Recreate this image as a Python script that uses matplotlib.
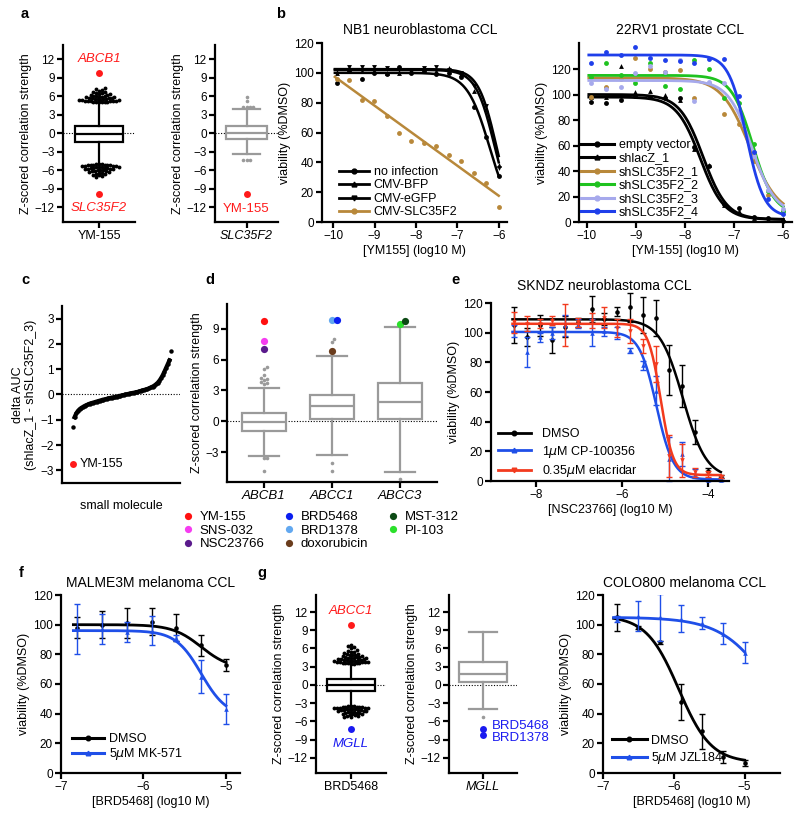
#!/usr/bin/env python3
import numpy as np
import matplotlib
matplotlib.use('Agg')
import matplotlib.pyplot as plt
from matplotlib.lines import Line2D

plt.rcParams['font.family'] = ['Liberation Sans', 'DejaVu Sans']
plt.rcParams['font.size'] = 9

# colours
RED = '#FF1A1A'
BROWN = '#B8883A'
GREEN = '#1FC21F'
LAV = '#A6A9EC'
BLUE = '#1F3FEA'
GRAY = '#9A9A9A'

# ---------------- data ----------------
# a: box stats [whislo, q1, med, q3, whishi]
a1_box = [-5.2, -1.5, -0.1, 1.1, 5.0]
a1_hi = [5.0, 5.02, 5.05, 5.07, 5.1, 5.12, 5.15, 5.18, 5.2, 5.23, 5.26, 5.3, 5.33, 5.36,
         5.4, 5.44, 5.48, 5.52, 5.56, 5.6, 5.64, 5.68, 5.72, 5.76, 5.8, 5.84, 5.88, 5.92,
         5.97, 6.02, 6.08, 6.14, 6.2, 6.28, 6.36, 6.45, 6.55, 6.65, 6.75, 6.9, 7.0, 7.15, 7.3]
a1_lo = [-5.0, -5.03, -5.05, -5.08, -5.1, -5.13, -5.16, -5.2, -5.23, -5.27, -5.3, -5.34,
         -5.38, -5.42, -5.46, -5.5, -5.54, -5.58, -5.62, -5.66, -5.7, -5.74, -5.78, -5.82,
         -5.86, -5.9, -5.95, -6.0, -6.05, -6.1, -6.16, -6.22, -6.3, -6.38, -6.46, -6.55,
         -6.65, -6.75, -6.85, -7.0, -7.1]
a1_hits = [9.8, -9.8]          # ABCB1, SLC35F2
a2_box = [-3.4, -0.9, 0.1, 1.15, 3.85]
a2_out = [4.2, 4.2, 4.25, 4.3, 5.3, 5.9, -4.3, -4.3, -4.3]
a2_hit = -9.8                  # YM-155

# b: NB1
nb1_dose = [-9.91, -9.61, -9.31, -9.01, -8.71, -8.41, -8.11, -7.81, -7.51, -7.21, -6.90, -6.60, -6.30, -6.00]
nb1_noinf = [93, 101, 96, 100, 99, 104, 100, 101, 99, 100, 97, 77, 57, 31]
nb1_bfp = [100, 103, 101, 101, 100, 100, 102, 101, 101, 103, 99, 88, 76, 38]
nb1_egfp = [102, 104, 104, 104, 103, 102, 102, 103, 104, 102, 100, 91, 78, 36]
nb1_slc = [96, 95, 82, 81, 71, 60, 54, 53, 51, 45, 41, 33, 26, 10]
# fit params [top, bottom, logIC50, hill]
nb1_fit = {'noinf': [100, 0, -6.22, 1.6], 'bfp': [102, 0, -6.1, 1.9], 'egfp': [102.5, 0, -6.06, 2.0]}

# b: 22RV1
rv_dose = nb1_dose
rv_labels = ['empty vector', 'shlacZ_1', 'shSLC35F2_1', 'shSLC35F2_2', 'shSLC35F2_3', 'shSLC35F2_4']
rv_vals = [
    [94, 93, 96, 99, 98, 97, 97, 59, 44, 14, 11, 4, 3, 1],
    [98, 98, 122, 102, 103, 100, 96, 57, 45, 13, 9, 3, 2, 2],
    [98, 106, 112, 129, 120, 118, 119, 97, 109, 85, 77, 48, 21, 9],
    [114, 125, 115, 109, 125, 107, 104, 127, 120, 97, 93, 61, 24, 9],
    [109, 104, 106, 117, 122, 118, 127, 95, 110, 109, 87, 52, 25, 10],
    [125, 133, 131, 137, 129, 127, 126, 125, 128, 128, 99, 55, 18, 6],
]
rv_fit = [[98, 2, -7.69, 1.8], [100, 2, -7.63, 1.8], [113, 5, -6.68, 1.5],
          [115, 6, -6.62, 2.0], [111, 6, -6.64, 1.8], [131, 4, -6.75, 2.4]]
rv_colors = ['black', 'black', BROWN, GREEN, LAV, BLUE]
rv_markers = ['o', '^', 'o', 'o', 'o', 'o']

# c: delta AUC, sorted
c_vals = [-1.28, -0.90, -0.75, -0.65, -0.58, -0.53, -0.49, -0.45, -0.42, -0.39, -0.36, -0.34,
          -0.32, -0.30, -0.28, -0.26, -0.24, -0.22, -0.20, -0.19, -0.17, -0.15, -0.14, -0.12,
          -0.11, -0.09, -0.08, -0.06, -0.05, -0.03, -0.02, 0.00, 0.01, 0.03, 0.04, 0.06, 0.07,
          0.09, 0.10, 0.12, 0.14, 0.16, 0.18, 0.20, 0.22, 0.25, 0.28, 0.31, 0.35, 0.40, 0.46,
          0.54, 0.64, 0.76, 0.90, 1.05, 1.20, 1.35, 1.72]
c_ym155 = -2.75

# d
d_genes = ['ABCB1', 'ABCC1', 'ABCC3']
d_boxes = [[-3.35, -0.9, -0.05, 0.82, 3.2], [-3.25, 0.22, 1.46, 2.6, 6.3], [-4.97, 0.22, 1.85, 3.75, 9.17]]
d_out = [[3.6, 3.7, 3.8, 4.0, 4.1, 4.2, 4.5, 5.1, 5.3, -3.6, -3.6, -4.8],
         [7.7, 8.0, 6.9, -4.1, -4.8],
         [-5.6]]
hit_names = ['YM-155', 'SNS-032', 'NSC23766', 'BRD5468', 'BRD1378', 'doxorubicin', 'MST-312', 'PI-103']
hit_gene = [0, 0, 0, 1, 1, 1, 2, 2]
hit_z = [9.7, 7.8, 7.0, 9.8, 9.8, 6.85, 9.7, 9.45]
hit_colors = ['#FF1010', '#F53CF0', '#5A1A8C', '#0A1EF0', '#62A8F0', '#6A3C1C', '#0C4A14', '#2BE02B']

# e: SKNDZ
e_dose = [-8.52, -8.22, -7.92, -7.62, -7.32, -7.02, -6.71, -6.41, -6.11, -5.81, -5.51, -5.21,
          -4.91, -4.61, -4.30, -4.00, -3.70]
e_dmso = [105, 97, 105, 95, 104, 107, 116, 109, 114, 117, 112, 110, 75, 64, 33, 7, 3]
e_dmso_err = [12, 6, 7, 9, 7, 3, 9, 4, 3, 10, 12, 12, 17, 14, 8, 2, 1]
e_cp = [101, 87, 97, 100, 105, 106, 100, 101, 100, 88, 78, 61, 15, 18, 5, 1, 1]
e_cp_err = [4, 10, 3, 4, 7, 3, 9, 3, 4, 2, 3, 10, 15, 8, 3, 1, 1]
e_ela = [107, 106, 106, 108, 105, 107, 108, 110, 103, 101, 91, 79, 17, 14, 6, 5, 3]
e_ela_err = [7, 5, 3, 3, 14, 3, 5, 7, 6, 8, 5, 12, 14, 11, 3, 2, 1]
e_fit = [[109, 2, -4.58, 1.6], [100.5, 1, -5.2, 2.2], [106, 4, -5.1, 3.0]]

# f / g (right): BRD5468 doses
fg_dose = [-6.8, -6.5, -6.2, -5.9, -5.6, -5.3, -5.0]
f_dmso = [98, 100, 101, 102, 98, 86, 73]
f_dmso_err = [7, 9, 10, 9, 9, 7, 4]
f_mk = [97, 97, 95, 96, 91, 65, 43]
f_mk_err = [17, 10, 7, 10, 2, 11, 10]
f_fit = [[100, 70, -5.3, 2.5], [96, 38, -5.3, 2.8]]
g_dmso = [105, 98, 88, 48, 28, 11, 7]
g_dmso_err = [9, 1, 1, 12, 12, 4, 2]
g_jzl = [104, 106, 105, 104, 101, 94, 81]
g_jzl_err = [2, 10, 16, 9, 4, 7, 7]
g_fit = [[106, 7, -5.93, 1.9], [105, 0, -4.55, 1.2]]

# g: box panels
g1_box = [-3.3, -0.95, 0.0, 1.0, 3.5]
g1_hi = [3.5, 3.52, 3.55, 3.57, 3.6, 3.63, 3.66, 3.7, 3.73, 3.76, 3.8, 3.84, 3.88, 3.92,
         3.96, 4.0, 4.04, 4.08, 4.12, 4.16, 4.2, 4.25, 4.3, 4.35, 4.4, 4.45, 4.5, 4.55, 4.6,
         4.66, 4.72, 4.78, 4.85, 4.92, 5.0, 5.08, 5.16, 5.25, 5.35, 5.45, 5.6, 5.8, 6.0, 6.2, 6.35, 6.5]
g1_lo = [-3.5, -3.52, -3.55, -3.58, -3.6, -3.63, -3.66, -3.7, -3.73, -3.77, -3.8, -3.84,
         -3.88, -3.92, -3.96, -4.0, -4.04, -4.08, -4.12, -4.16, -4.2, -4.25, -4.3, -4.35,
         -4.4, -4.45, -4.5, -4.55, -4.6, -4.66, -4.72, -4.78, -4.85, -4.92, -5.0, -5.08,
         -5.16, -5.25, -5.35]
g1_hits = [9.8, -7.2]          # ABCC1, MGLL
g2_box = [-3.95, 0.43, 1.8, 3.7, 8.75]
g2_out = [-5.2]
g2_hits = [-7.2, -8.2]         # BRD5468, BRD1378

# ---------------- helpers ----------------
W, H = 800, 821
fig = plt.figure(figsize=(W / 100, H / 100), dpi=100)


def add_ax(x0, y0, x1, y1):
    ax = fig.add_axes([x0 / W, 1 - y1 / H, (x1 - x0) / W, (y1 - y0) / H])
    ax.spines['top'].set_visible(False)
    ax.spines['right'].set_visible(False)
    ax.spines['left'].set_linewidth(1.6)
    ax.spines['bottom'].set_linewidth(1.6)
    ax.tick_params(width=1.6, length=4, labelsize=8.5, pad=2)
    ax.patch.set_alpha(0)
    return ax


def ftext(x, y, s, **kw):
    fig.text(x / W, 1 - y / H, s, **kw)


def logistic(x, top, bottom, logic, hill):
    return bottom + (top - bottom) / (1 + 10 ** ((x - logic) * hill))


def swarm(ax, vals, center, gap, sort=True):
    # push points sideways until they stop overlapping (GraphPad-like scatter)
    t = ax.transData
    cx = t.transform((center, 0))[0]
    vals = sorted(vals, key=abs) if sort else list(vals)
    placed, xs = [], []
    for v in vals:
        py = t.transform((center, v))[1]
        off = 0
        for k in range(400):
            off = ((k + 1) // 2) * gap * 0.5 * (1 if k % 2 else -1)
            if all((off - ox) ** 2 + (py - oy) ** 2 >= gap ** 2 for ox, oy in placed):
                break
        placed.append((off, py))
        xs.append(t.inverted().transform((cx + off, py))[0])
    return np.array(xs), np.array(vals)


def box(ax, pos, st, color, width, capw):
    stats = [dict(whislo=st[0], q1=st[1], med=st[2], q3=st[3], whishi=st[4], fliers=[])]
    lw = 1.6
    ax.bxp(stats, positions=[pos], widths=width, capwidths=capw, showfliers=False,
           patch_artist=True, zorder=3,
           boxprops=dict(facecolor='white', edgecolor=color, linewidth=lw),
           medianprops=dict(color=color, linewidth=lw),
           whiskerprops=dict(color=color, linewidth=lw),
           capprops=dict(color=color, linewidth=lw))


def zero_line(ax):
    ax.axhline(0, color='black', lw=0.8, ls=(0, (1, 1.5)), zorder=1)


def zbox_axes(ax, ylim):
    ax.set_xlim(-1, 1)
    ax.set_ylim(*ylim)
    ax.set_yticks(range(-12, 13, 3))
    ax.set_ylabel('Z-scored correlation strength', fontsize=9, labelpad=2)


# ---------------- a ----------------
a1 = add_ax(63, 45, 135, 222)
zbox_axes(a1, (-14.4, 14.3))
zero_line(a1)
box(a1, 0, a1_box, 'black', 1.36, 0.0)
for tail in (a1_hi, a1_lo):
    x, y = swarm(a1, tail, 0, 2.8)
    a1.plot(x, y, 'o', color='black', ms=2.8, mew=0, zorder=4)
a1.plot([0, 0], a1_hits, 'o', color=RED, ms=5, mew=0, zorder=5)
a1.text(0, 12.1, 'ABCB1', color=RED, style='italic', ha='center', va='center', fontsize=9.5)
a1.text(0, -12.1, 'SLC35F2', color=RED, style='italic', ha='center', va='center', fontsize=9.5)
a1.set_xticks([0])
a1.set_xticklabels(['YM-155'], fontsize=9)

a2 = add_ax(215, 45, 278, 222)
zbox_axes(a2, (-14.4, 14.3))
zero_line(a2)
box(a2, 0, a2_box, GRAY, 1.3, 0.86)
x, y = swarm(a2, a2_out, 0, 3.2)
a2.plot(x, y, 'o', color=GRAY, ms=2.6, mew=0, zorder=4)
a2.plot([0], [a2_hit], 'o', color=RED, ms=5, mew=0, zorder=5)
a2.text(0, -12.3, 'YM-155', color=RED, ha='center', va='center', fontsize=9.5)
a2.set_xticks([0])
a2.set_xticklabels(['SLC35F2'], fontsize=9, style='italic')

# ---------------- b (NB1) ----------------
b1 = add_ax(322, 43, 507, 222)
b1.set_xlim(-10.27, -5.8)
b1.set_ylim(0, 120)
b1.set_yticks(range(0, 121, 20))
b1.set_xticks([-10, -9, -8, -7, -6])
xx = np.linspace(nb1_dose[0] - 0.05, nb1_dose[-1], 200)
for key, vals, m in [('noinf', nb1_noinf, 'o'), ('bfp', nb1_bfp, '^'), ('egfp', nb1_egfp, 'v')]:
    b1.plot(xx, logistic(xx, *nb1_fit[key]), color='black', lw=1.8)
    b1.plot(nb1_dose, vals, m, color='black', ms=3.5, mew=0, clip_on=False)
slope, icpt = np.polyfit(nb1_dose, nb1_slc, 1)
b1.plot(xx, slope * xx + icpt, color=BROWN, lw=1.8)
b1.plot(nb1_dose, nb1_slc, 'o', color=BROWN, ms=3.5, mew=0)
b1.set_xlabel('[YM155] (log10 M)', fontsize=9, labelpad=2)
b1.set_ylabel('viability (%DMSO)', fontsize=9, labelpad=2)
b1.legend([Line2D([], [], color='black', marker='o', ms=3.5, lw=2),
           Line2D([], [], color='black', marker='^', ms=3.5, lw=2),
           Line2D([], [], color='black', marker='v', ms=3.5, lw=2),
           Line2D([], [], color=BROWN, marker='o', ms=3.5, lw=2)],
          ['no infection', 'CMV-BFP', 'CMV-eGFP', 'CMV-SLC35F2'],
          loc='lower left', bbox_to_anchor=(0.09, 0.02), frameon=False, fontsize=9,
          handlelength=2.4, handletextpad=0.4, labelspacing=0.12, borderaxespad=0, borderpad=0)
ftext(420, 30, 'NB1 neuroblastoma CCL', ha='center', va='center', fontsize=10)

# ---------------- b (22RV1) ----------------
b2 = add_ax(579, 43, 792, 222)
b2.set_xlim(-10.16, -5.82)
b2.set_ylim(0, 140.4)
b2.set_yticks(range(0, 121, 20))
b2.set_xticks([-10, -9, -8, -7, -6])
xx = np.linspace(rv_dose[0] - 0.05, rv_dose[-1], 200)
handles = []
for vals, fit, c, m in zip(rv_vals, rv_fit, rv_colors, rv_markers):
    b2.plot(rv_dose, vals, m, color=c, ms=3.5, mew=0, clip_on=False)
    b2.plot(xx, logistic(xx, *fit), color=c, lw=2)
    handles.append(Line2D([], [], color=c, marker=m, ms=3.5, lw=2.2))
b2.set_xlabel('[YM-155] (log10 M)', fontsize=9, labelpad=2)
b2.set_ylabel('viability (%DMSO)', fontsize=9, labelpad=2)
b2.legend(handles, rv_labels, loc='lower left', bbox_to_anchor=(0.01, 0.02), frameon=False,
          fontsize=9, handlelength=2.6, handletextpad=0.4, labelspacing=0.12,
          borderaxespad=0, borderpad=0)
ftext(680, 30, '22RV1 prostate CCL', ha='center', va='center', fontsize=10)

# ---------------- c ----------------
c = add_ax(62, 306, 180, 483)
n = len(c_vals)
c.set_xlim(-0.11 * (n - 1), 1.09 * (n - 1))
c.set_ylim(-3.5, 3.5)
c.set_yticks(range(-3, 4))
c.set_xticks([])
zero_line(c)
c.plot(np.arange(1, n - 1), c_vals[1:-1], '-o', color='black', ms=3.2, lw=3, mew=0, zorder=3)
c.plot([0, n - 1], [c_vals[0], c_vals[-1]], 'o', color='black', ms=3.2, mew=0, zorder=3)
c.plot([0], [c_ym155], 'o', color=RED, ms=5, mew=0, zorder=4)
c.annotate('YM-155', (0, c_ym155), xytext=(5, 0), textcoords='offset points',
           va='center', ha='left', fontsize=9)
c.set_xlabel('small molecule', fontsize=9, labelpad=12)
c.set_ylabel('delta AUC\n(shlacZ_1 - shSLC35F2_3)', fontsize=9, labelpad=2)

# ---------------- d ----------------
d = add_ax(227, 304, 437, 482)
d.set_xlim(-0.54, 2.54)
d.set_ylim(-5.9, 11.4)
d.set_yticks([-3, 0, 3, 6, 9])
zero_line(d)
for i, st in enumerate(d_boxes):
    box(d, i, st, GRAY, 0.64, 0.44)
    x, y = swarm(d, d_out[i], i, 3.2)
    d.plot(x, y, 'o', color=GRAY, ms=2.6, mew=0, zorder=4)
for gi in range(3):
    idx = [k for k in range(len(hit_gene)) if hit_gene[k] == gi]
    # draw back to front so the first-named compound sits on top
    idx = idx[::-1]
    zs = [hit_z[k] for k in idx]
    x, y = swarm(d, zs, gi, 4.5, sort=False)
    for k, xi, yi in zip(idx, x, y):
        d.plot([xi], [yi], 'o', color=hit_colors[k], ms=5.2, mew=0, zorder=5)
d.set_xticks(range(3))
d.set_xticklabels(d_genes, style='italic', fontsize=9.5)
d.set_ylabel('Z-scored correlation strength', fontsize=9, labelpad=2)
fig.legend([Line2D([], [], ls='none', marker='o', color=col, ms=5.2, mew=0) for col in hit_colors],
           hit_names, ncol=3, loc='upper left', bbox_to_anchor=(183 / W, 1 - 511 / H),
           frameon=False, fontsize=9.5, handlelength=0.8, handletextpad=0.45,
           labelspacing=0.1, columnspacing=1.5, borderpad=0, borderaxespad=0)

# ---------------- e ----------------
e = add_ax(491, 303, 729, 481)
e.set_xlim(-9.05, -3.51)
e.set_ylim(0, 120)
e.set_yticks(range(0, 121, 20))
e.set_xticks([-8, -6, -4])
xx = np.linspace(e_dose[0] - 0.03, e_dose[-1], 200)
e_series = [(e_dmso, e_dmso_err, 'black', 'o'), (e_cp, e_cp_err, '#1F4FE8', '^'),
            (e_ela, e_ela_err, '#F23A1E', 'v')]
handles = []
for (vals, err, col, m), fit in zip(e_series, e_fit):
    e.errorbar(e_dose, vals, yerr=err, fmt='none', ecolor=col, elinewidth=1,
               capsize=2.5, capthick=1, clip_on=False)
    e.plot(e_dose, vals, m, color=col, ms=3.3, mew=0, clip_on=False)
    e.plot(xx, logistic(xx, *fit), color=col, lw=1.8)
    handles.append(Line2D([], [], color=col, marker=m, ms=3.3, lw=2))
e.set_xlabel('[NSC23766] (log10 M)', fontsize=9, labelpad=2)
e.set_ylabel('viability (%DMSO)', fontsize=9, labelpad=2)
e.legend(handles, ['DMSO', '1$\\mu$M CP-100356', '0.35$\\mu$M elacridar'],
         loc='lower left', bbox_to_anchor=(0.03, 0.01), frameon=False, fontsize=9,
         handlelength=2.6, handletextpad=0.9, labelspacing=0.28, borderaxespad=0, borderpad=0)
ftext(604, 286, 'SKNDZ neuroblastoma CCL', ha='center', va='center', fontsize=10)

# ---------------- f ----------------
f = add_ax(61, 595, 240, 773)
f.set_xlim(-7, -4.83)
f.set_ylim(0, 120)
f.set_yticks(range(0, 121, 20))
f.set_xticks([-7, -6, -5])
xx = np.linspace(fg_dose[0] - 0.05, fg_dose[-1], 200)
handles = []
for vals, err, col, m, fit in [(f_dmso, f_dmso_err, 'black', 'o', f_fit[0]),
                               (f_mk, f_mk_err, '#1F4FE8', '^', f_fit[1])]:
    f.errorbar(fg_dose, vals, yerr=err, fmt='none', ecolor=col, elinewidth=1,
               capsize=2.5, capthick=1)
    f.plot(fg_dose, vals, m, color=col, ms=3.3, mew=0)
    f.plot(xx, logistic(xx, *fit), color=col, lw=2)
    handles.append(Line2D([], [], color=col, marker=m, ms=3.3, lw=2.2))
f.set_xlabel('[BRD5468] (log10 M)', fontsize=9, labelpad=2)
f.set_ylabel('viability (%DMSO)', fontsize=9, labelpad=2)
f.legend(handles, ['DMSO', '5$\\mu$M MK-571'], loc='lower left', bbox_to_anchor=(0.06, 0.06),
         frameon=False, fontsize=9, handlelength=2.6, handletextpad=0.4, labelspacing=0.1,
         borderaxespad=0, borderpad=0)
ftext(151, 583, 'MALME3M melanoma CCL', ha='center', va='center', fontsize=10)

# ---------------- g (box panels) ----------------
g1 = add_ax(316, 595, 386, 773)
zbox_axes(g1, (-14.5, 14.8))
zero_line(g1)
box(g1, 0, g1_box, 'black', 1.37, 0.0)
for tail in (g1_hi, g1_lo):
    x, y = swarm(g1, tail, 0, 2.8)
    g1.plot(x, y, 'o', color='black', ms=2.8, mew=0, zorder=4)
g1.plot([0], [g1_hits[0]], 'o', color=RED, ms=5, mew=0, zorder=5)
g1.plot([0], [g1_hits[1]], 'o', color='#1A1AF0', ms=5, mew=0, zorder=5)
g1.text(0, 12.1, 'ABCC1', color=RED, style='italic', ha='center', va='center', fontsize=9.5)
g1.text(0, -9.8, 'MGLL', color='#1A1AF0', style='italic', ha='center', va='center', fontsize=9.5)
g1.set_xticks([0])
g1.set_xticklabels(['BRD5468'], fontsize=9)

g2 = add_ax(449, 595, 517, 773)
zbox_axes(g2, (-14.5, 14.8))
zero_line(g2)
box(g2, 0, g2_box, GRAY, 1.44, 0.85)
g2.plot([0] * len(g2_out), g2_out, 'o', color=GRAY, ms=2.6, mew=0, zorder=4)
g2.plot([0, 0], g2_hits, 'o', color='#1A1AF0', ms=5, mew=0, zorder=5)
g2.text(0.26, np.mean(g2_hits), 'BRD5468\nBRD1378', color='#1A1AF0', ha='left', va='center',
        fontsize=9.5, linespacing=1.0, clip_on=False)
g2.set_xticks([0])
g2.set_xticklabels(['MGLL'], fontsize=9, style='italic')

# ---------------- g (COLO800) ----------------
g3 = add_ax(603, 595, 780, 773)
g3.set_xlim(-7, -4.5)
g3.set_ylim(0, 120)
g3.set_yticks(range(0, 121, 20))
g3.set_xticks([-7, -6, -5])
handles = []
for vals, err, col, m, fit in [(g_dmso, g_dmso_err, 'black', 'o', g_fit[0]),
                               (g_jzl, g_jzl_err, '#1F4FE8', '^', g_fit[1])]:
    g3.errorbar(fg_dose, vals, yerr=err, fmt='none', ecolor=col, elinewidth=1,
                capsize=2.5, capthick=1)
    g3.plot(fg_dose, vals, m, color=col, ms=3.3, mew=0)
    g3.plot(xx, logistic(xx, *fit), color=col, lw=2)
    handles.append(Line2D([], [], color=col, marker=m, ms=3.3, lw=2.2))
g3.set_xlabel('[BRD5468] (log10 M)', fontsize=9, labelpad=2)
g3.set_ylabel('viability (%DMSO)', fontsize=9, labelpad=2)
g3.legend(handles, ['DMSO', '5$\\mu$M JZL184'], loc='lower left', bbox_to_anchor=(0.05, 0.04),
          frameon=False, fontsize=9, handlelength=2.8, handletextpad=0.3, labelspacing=0.25,
          borderaxespad=0, borderpad=0)
ftext(685, 583, 'COLO800 melanoma CCL', ha='center', va='center', fontsize=10)

# ---------------- panel letters ----------------
for s, x, y in [('a', 25, 14), ('b', 281, 14), ('c', 25, 280), ('d', 210, 280),
                ('e', 455, 280), ('f', 21, 573), ('g', 262, 573)]:
    ftext(x, y, s, fontsize=10.5, fontweight='bold', ha='center', va='center')

fig.savefig('out.png', dpi=100)
